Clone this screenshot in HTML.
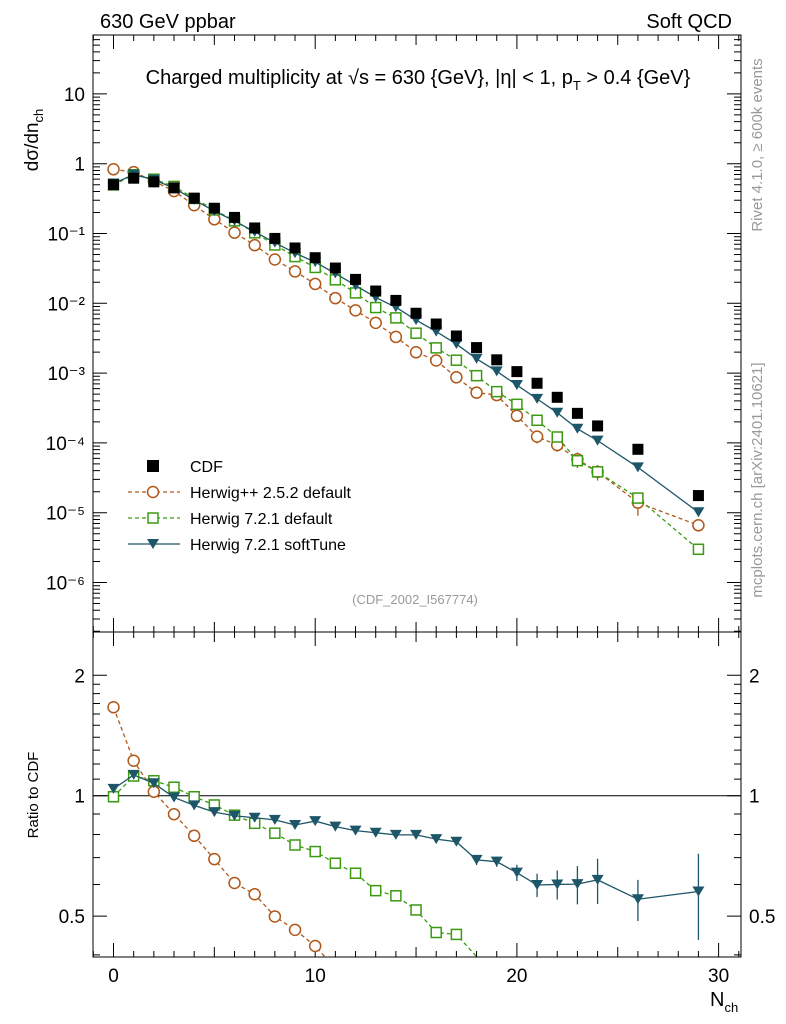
<!DOCTYPE html>
<html><head><meta charset="utf-8"><style>
html,body{margin:0;padding:0;background:#fff;overflow:hidden;width:786px;height:1024px}
svg{display:block}
svg text{font-family:"Liberation Sans","DejaVu Sans",sans-serif}
</style></head><body>
<svg id="c" width="786" height="1024" xmlns="http://www.w3.org/2000/svg">
<text x="100" y="28" font-size="20">630 GeV ppbar</text>
<text x="732" y="28" font-size="20" text-anchor="end">Soft QCD</text>
<text transform="translate(762,145) rotate(-90)" font-size="15" fill="#999" text-anchor="middle">Rivet 4.1.0, ≥ 600k events</text>
<text transform="translate(762,480) rotate(-90)" font-size="15" fill="#999" text-anchor="middle">mcplots.cern.ch [arXiv:2401.10621]</text>
<text x="418" y="84" font-size="20" text-anchor="middle">Charged multiplicity at √s = 630 {GeV}, |η| &lt; 1, p<tspan font-size="13" dy="6">T</tspan><tspan dy="-6"> &gt; 0.4 {GeV}</tspan></text>
<text transform="translate(38,140) rotate(-90)" font-size="19" text-anchor="middle">dσ/dn<tspan font-size="13" dy="5">ch</tspan></text>
<text transform="translate(38,795) rotate(-90)" font-size="15" text-anchor="middle">Ratio to CDF</text>
<text x="415" y="604" font-size="13" fill="#999" text-anchor="middle">(CDF_2002_I567774)</text>
<text x="710" y="1006" font-size="20">N<tspan font-size="13" dy="6">ch</tspan></text>
<g id="axes"></g><g id="series"></g><g id="legend"></g>
</svg>
<script>
const nch=[0,1,2,3,4,5,6,7,8,9,10,11,12,13,14,15,16,17,18,19,20,21,22,23,24,26,29];
const cdf=[0.5,0.62,0.55,0.45,0.32,0.23,0.17,0.12,0.085,0.062,0.045,0.032,0.022,0.015,0.011,0.0072,0.00505,0.0034,0.00232,0.00155,0.00105,0.000715,0.00045,0.000265,0.000175,8.1e-5,1.76e-5];
const ratioHpp=[1.664,1.223,1.023,0.899,0.794,0.694,0.605,0.567,0.499,0.462,0.421,0.37,0.36,0.35,0.3,0.276,0.3,0.256,0.226,0.313,0.233,0.172,0.207,0.22,0.22,0.172,0.375];
const ratioH7=[0.994,1.12,1.09,1.05,0.994,0.948,0.894,0.853,0.806,0.753,0.725,0.678,0.64,0.579,0.562,0.518,0.455,0.45,0.396,0.35,0.34,0.295,0.27,0.21,0.22,0.2,0.17];
const ratioSoft=[1.04,1.127,1.074,0.99,0.946,0.91,0.891,0.881,0.87,0.845,0.864,0.837,0.818,0.808,0.798,0.798,0.779,0.767,0.691,0.684,0.642,0.598,0.6,0.601,0.616,0.551,0.576];
const errSoft=[0,0,0,0,0,0,0,0,0,0,0,0,0,0,0,0,0,0,0.02,0.02,0.03,0.04,0.05,0.066,0.08,0.065,0.14];
const errHppRel=[0,0,0,0,0,0,0,0,0,0,0,0,0,0,0,0,0,0,0,0,0,0.2,0.2,0.25,0.25,0.35,0.15];
const yTicks=[-6,-5,-4,-3,-2,-1,0,1];
const yTickLabels=["10⁻⁶","10⁻⁵","10⁻⁴","10⁻³","10⁻²","10⁻¹","1","10"];
const xTicks=[0,10,20,30];
const rTicks=[0.5,1,2];

const NS="http://www.w3.org/2000/svg";
const L=93,R=741,T=35,MB=632,RB=957;
const X=v=>113.5+v*20.17;
const Y=v=>93.9+(1-Math.log10(v))*69.8;
const RY=v=>795.7-Math.log10(v)*400;
function el(p,tag,a){const e=document.createElementNS(NS,tag);for(const k in a)e.setAttribute(k,a[k]);p.appendChild(e);return e;}
const ax=document.getElementById('axes'),sr=document.getElementById('series'),lg=document.getElementById('legend');
let f=el(ax,'rect',{x:L,y:T,width:R-L,height:MB-T,fill:'none',stroke:'#000','stroke-width':1});

f=el(ax,'rect',{x:L,y:MB,width:R-L,height:RB-MB,fill:'none',stroke:'#000','stroke-width':1});

let d='';
for(let v=-1;v<=31;v++){const x=X(v);if(x<L||x>R)continue;const len=v%10==0?14:(v%5==0?10:6);
 d+=`M${x},${MB}v-${len}M${x},${T}v${len}M${x},${RB}v-${len}M${x},${MB}v${len}`;}
for(let e=-7;e<=1;e++)for(let m=1;m<10;m++){const y=Y(m*Math.pow(10,e));if(y<T||y>MB)continue;const len=m==1?14:7;d+=`M${L},${y}h${len}M${R},${y}h-${len}`;}
[0.4,0.5,0.6,0.7,0.8,0.9,1,1.1,1.2,1.3,1.4,1.5,1.6,1.7,1.8,1.9,2].forEach(v=>{const y=RY(v);const len=(v==0.5||v==1||v==2)?14:7;d+=`M${L},${y}h${len}M${R},${y}h-${len}`;});
el(ax,'path',{d,stroke:'#000','stroke-width':1,fill:'none'});
yTicks.forEach((e,i)=>{const t=el(ax,'text',{x:L-8,y:Y(Math.pow(10,e))+7,'font-size':19,'text-anchor':'end'});t.textContent=yTickLabels[i];
});
xTicks.forEach(v=>{const t=el(ax,'text',{x:X(v),y:982,'font-size':19,'text-anchor':'middle'});t.textContent=v;
});
rTicks.forEach(v=>{[[L-8,'end'],[R+8,'start']].forEach(([x,a])=>{const t=el(ax,'text',{x,y:RY(v)+7,'font-size':19,'text-anchor':a});t.textContent=v;
});});
el(ax,'line',{x1:L,x2:R,y1:RY(1),y2:RY(1),stroke:'#000'});
const cp=el(sr,'clipPath',{id:'rc'});el(cp,'rect',{x:L,y:MB,width:R-L,height:RB-MB});
const cpm=el(sr,'clipPath',{id:'mc'});el(cpm,'rect',{x:L,y:T,width:R-L,height:MB-T});
function marker(g,kind,x,y,col){let m;
 if(kind=='circle')m=el(g,'circle',{cx:x,cy:y,r:5.5,fill:'#fff',stroke:col,'stroke-width':1.5});
 else if(kind=='square')m=el(g,'rect',{x:x-5,y:y-5,width:10,height:10,fill:'#fff',stroke:col,'stroke-width':1.5});
 else m=el(g,'path',{d:`M${x-6},${y-5}h12l-6,10z`,fill:col});return m;}
// clip a polyline to the ratio panel's vertical range
function clipPts(pts,ymin,ymax){const out=[];for(let i=0;i<pts.length;i++){const p=pts[i];
 const inP=p[1]>=ymin&&p[1]<=ymax;
 if(i>0){const q=pts[i-1];const inQ=q[1]>=ymin&&q[1]<=ymax;
  if(inQ&&!inP){const b=p[1]>ymax?ymax:ymin;const t=(b-q[1])/(p[1]-q[1]);out.push([q[0]+t*(p[0]-q[0]),b]);break;}
  if(!inQ&&inP){const b=q[1]>ymax?ymax:ymin;const t=(b-q[1])/(p[1]-q[1]);out.push([q[0]+t*(p[0]-q[0]),b]);}}
 if(inP)out.push(p);}return out;}
const ser=[
 {name:'herwigpp',ratio:ratioHpp,col:'#b0581a',kind:'circle',dash:'4,3'},
 {name:'herwig721',ratio:ratioH7,col:'#3a9a10',kind:'square',dash:'4,3'},
 {name:'softtune',ratio:ratioSoft,col:'#1d5668',kind:'tri',dash:null}];
ser.forEach(s=>{
 const gm=el(sr,'g',{'clip-path':'url(#mc)'});
 const gr=el(sr,'g',{'clip-path':'url(#rc)'});
 const pm=nch.map((n,i)=>[X(n),Y(cdf[i]*s.ratio[i])]);const prAll=nch.map((n,i)=>[X(n),RY(s.ratio[i])]);
 const pr=clipPts(prAll,MB,RB);
 const a={fill:'none',stroke:s.col,'stroke-width':1.3};if(s.dash)a['stroke-dasharray']=s.dash;
 el(gm,'polyline',Object.assign({points:pm.join(' ')},a));el(gr,'polyline',Object.assign({points:pr.join(' ')},a));
 if(s.name=='softtune')nch.forEach((n,i)=>{if(errSoft[i]>0)el(gr,'line',{x1:X(n),x2:X(n),y1:RY(s.ratio[i]+errSoft[i]),y2:Math.min(RB,RY(s.ratio[i]-errSoft[i])),stroke:s.col,'stroke-width':1.3});});
 if(s.name=='herwigpp')nch.forEach((n,i)=>{if(errHppRel[i]>0){const v=cdf[i]*s.ratio[i];el(gm,'line',{x1:X(n),x2:X(n),y1:Y(v*(1+errHppRel[i])),y2:Y(v*(1-errHppRel[i])),stroke:s.col,'stroke-width':1.3});}});
 pm.forEach(p=>{const m=marker(gm,s.kind,p[0],p[1],s.col);});
 prAll.forEach(p=>{if(p[1]>RB-4||p[1]<MB)return;const m=marker(gr,s.kind,p[0],p[1],s.col);});
});
const gc=el(sr,'g',{});
nch.forEach((n,i)=>{const m=el(gc,'rect',{x:X(n)-5.5,y:Y(cdf[i])-5.5,width:11,height:11,fill:'#000'});
});
const leg=[['CDF',null],['Herwig++ 2.5.2 default',ser[0]],['Herwig 7.2.1 default',ser[1]],['Herwig 7.2.1 softTune',ser[2]]];
leg.forEach((l,i)=>{const y=466+i*26;const g=el(lg,'g',{});
 if(!l[1])el(g,'rect',{x:147,y:y-6,width:12,height:12,fill:'#000'});
 else{const a={x1:128,x2:180,y1:y,y2:y,stroke:l[1].col,'stroke-width':1.3};if(l[1].dash)a['stroke-dasharray']=l[1].dash;el(g,'line',a);marker(g,l[1].kind,153,y,l[1].col);}
 const t=el(g,'text',{x:190,y:y+6,'font-size':16});t.textContent=l[0];});
</script>
</body></html>
